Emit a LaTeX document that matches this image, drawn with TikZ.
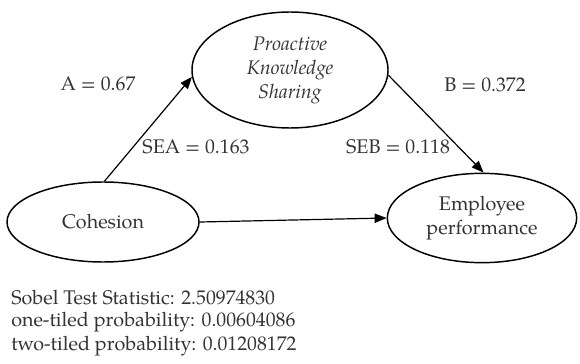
\documentclass[tikz,border=0pt]{standalone}
\usepackage{fontspec}
\setmainfont{texgyrepagella}[Extension=.otf,UprightFont=*-regular,ItalicFont=*-italic,BoldFont=*-bold]
\usetikzlibrary{shapes.geometric,arrows.meta}
\definecolor{txt}{HTML}{333333}
\tikzset{
  var/.style={ellipse,draw,line width=1.1pt,text=txt,align=center,inner sep=0pt,font=\fontsize{14.8}{18}\selectfont},
  lbl/.style={text=txt,inner sep=0pt,font=\fontsize{14.8}{18}\selectfont},
  path/.style={line width=0.9pt,-{Triangle[length=9pt,width=7pt]}}
}
\begin{document}
\begin{tikzpicture}[x=0.75pt,y=-0.75pt]
\useasboundingbox (0,0) rectangle (580,363);
\node[var,minimum width=147pt,minimum height=87pt] (pks) at (290,70) {\itshape Proactive\\\itshape Knowledge\\\itshape Sharing};
\node[var,minimum width=144pt,minimum height=60pt] (coh) at (103,222) {Cohesion};
\node[var,minimum width=142pt,minimum height=67pt] (emp) at (482,218) {Employee\\performance};
\draw[path] (coh.88) -- (pks.184);
\draw[path] (pks.357) -- (emp.88);
\draw[path] (coh.east) -- (emp.west);
\node[lbl] (a) at (98,84) {A = 0.67};
\node[lbl] (sea) at (196,147) {SEA = 0.163};
\node[lbl] (b) at (485,85) {B = 0.372};
\node[lbl] (seb) at (398,147) {SEB = 0.118};
\node[lbl,anchor=west] (s1) at (11,298) {Sobel Test Statistic: 2.50974830};
\node[lbl,anchor=west] (s2) at (11,322) {one-tiled probability: 0.00604086};
\node[lbl,anchor=west] (s3) at (11,346) {two-tiled probability: 0.01208172};
\end{tikzpicture}
\end{document}
